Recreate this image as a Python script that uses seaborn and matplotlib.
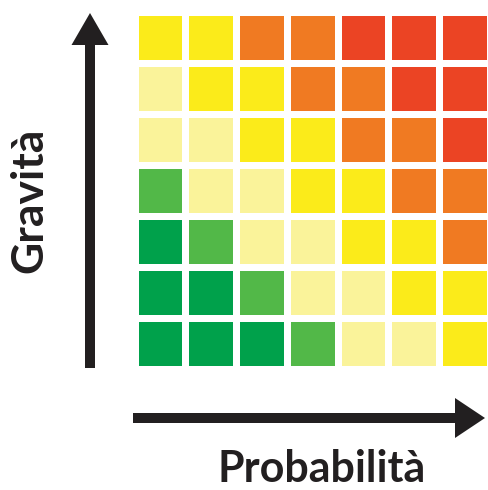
import matplotlib
matplotlib.use('Agg')
import matplotlib.pyplot as plt
import seaborn as sns
import pandas as pd
from matplotlib.colors import ListedColormap
from matplotlib.patches import FancyArrow

# livelli di rischio (0 = basso, 5 = alto), riga in alto = gravità massima
gravita = [7, 6, 5, 4, 3, 2, 1]
probabilita = [1, 2, 3, 4, 5, 6, 7]
riga_7 = [3, 3, 4, 4, 5, 5, 5]
riga_6 = [2, 3, 3, 4, 4, 5, 5]
riga_5 = [2, 2, 3, 3, 4, 4, 5]
riga_4 = [1, 2, 2, 3, 3, 4, 4]
riga_3 = [0, 1, 2, 2, 3, 3, 4]
riga_2 = [0, 0, 1, 2, 2, 3, 3]
riga_1 = [0, 0, 0, 1, 2, 2, 3]

colori = ['#00a14b', '#52b848', '#faf39a', '#fbeb1a', '#f07a22', '#eb4424']

df = pd.DataFrame([riga_7, riga_6, riga_5, riga_4, riga_3, riga_2, riga_1],
                  index=gravita, columns=probabilita)

fig = plt.figure(figsize=(4.88, 4.90), dpi=100)
ax = fig.add_axes([0.276, 0.246, 0.728, 0.730])

sns.heatmap(df, ax=ax, cmap=ListedColormap(colori), vmin=-0.5, vmax=5.5,
            cbar=False, linewidths=3.8, linecolor='white',
            xticklabels=False, yticklabels=False)
ax.set_xlabel('')
ax.set_ylabel('')

# frecce e titoli degli assi (coordinate in pixel)
over = fig.add_axes([0, 0, 1, 1], zorder=-1)
over.set_xlim(0, 488)
over.set_ylim(490, 0)
over.axis('off')

nero = '#221f20'
over.add_patch(FancyArrow(90, 368, 0, -355, width=10, head_width=37, head_length=32,
                          length_includes_head=True, color=nero, lw=0))
over.add_patch(FancyArrow(133, 418, 352, 0, width=10, head_width=40, head_length=30,
                          length_includes_head=True, color=nero, lw=0))

over.text(29, 200, 'Gravità', rotation=90, ha='center', va='center',
          fontsize=32, fontweight='bold', family='Lato', color=nero)
over.text(322, 482, 'Probabilità', ha='center', va='baseline',
          fontsize=31, fontweight='bold', family='Lato', color=nero)

fig.savefig('out.png', dpi=100, facecolor='white')
